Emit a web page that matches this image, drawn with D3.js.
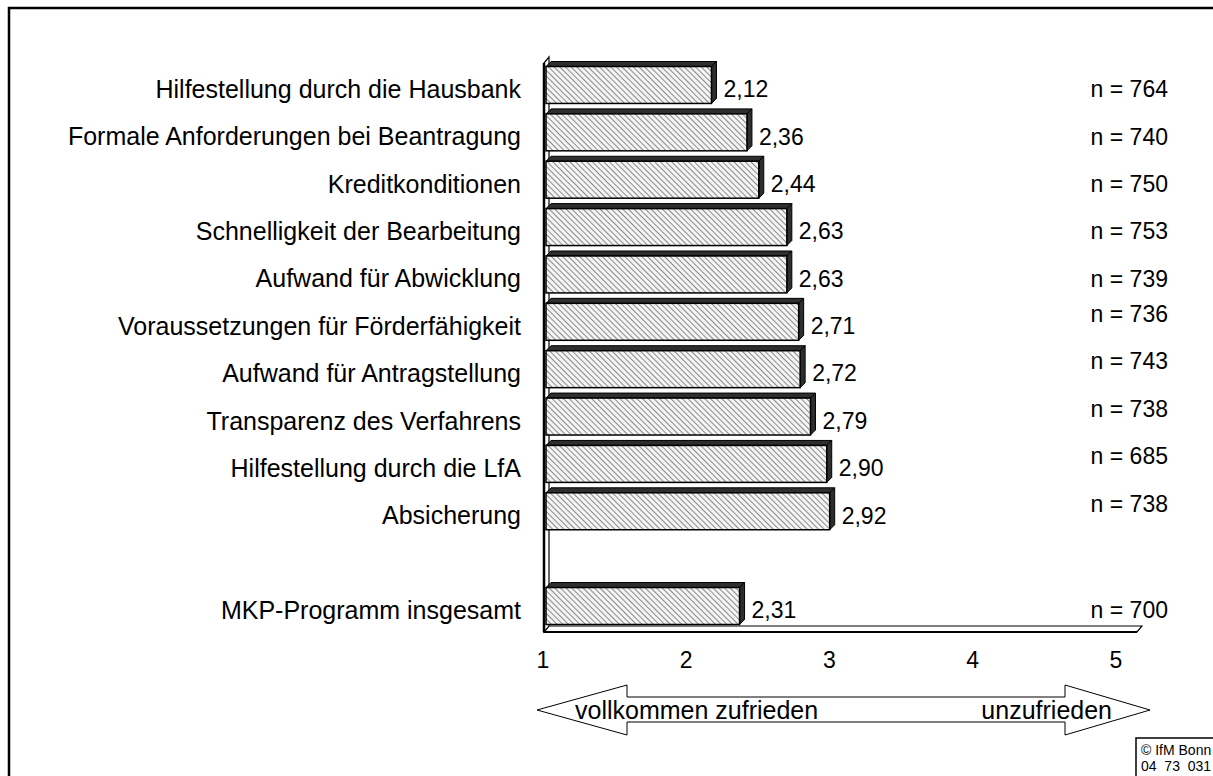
<!DOCTYPE html>
<html>
<head>
<meta charset="utf-8">
<script src="https://d3js.org/d3.v7.min.js"></script>
<style>
  body { margin: 0; background: #fff; }
  text { font-family: "Liberation Sans", Arial, sans-serif; fill: #000; }
</style>
</head>
<body>
<div id="my_dataviz"></div>
<script>
// data
const categories = [
  "Hilfestellung durch die Hausbank",
  "Formale Anforderungen bei Beantragung",
  "Kreditkonditionen",
  "Schnelligkeit der Bearbeitung",
  "Aufwand für Abwicklung",
  "Voraussetzungen für Förderfähigkeit",
  "Aufwand für Antragstellung",
  "Transparenz des Verfahrens",
  "Hilfestellung durch die LfA",
  "Absicherung",
  "",
  "MKP-Programm insgesamt"
];
const values = [2.12, 2.36, 2.44, 2.63, 2.63, 2.71, 2.72, 2.79, 2.90, 2.92, null, 2.31];
const counts = [764, 740, 750, 753, 739, 736, 743, 738, 685, 738, null, 700];
const tickValues = [1, 2, 3, 4, 5];
const scaleLabels = ["vollkommen zufrieden", "unzufrieden"];
const footer = ["© IfM Bonn", "04  73  031"];

const width = 1213, height = 776;
const depth = 5;

const svg = d3.select("#my_dataviz")
  .append("svg")
    .attr("width", width)
    .attr("height", height);

// hatch pattern for the bar faces
svg.append("defs")
  .append("pattern")
    .attr("id", "hatch")
    .attr("patternUnits", "userSpaceOnUse")
    .attr("width", 4)
    .attr("height", 4)
    .attr("patternTransform", "rotate(-45)")
  .call(p => {
    p.append("rect").attr("width", 4).attr("height", 4).attr("fill", "#f4f4f4");
    p.append("line").attr("x1", 0.5).attr("y1", 0).attr("x2", 0.5).attr("y2", 4)
      .attr("stroke", "#8a8a8a").attr("stroke-width", 1);
  });

// outer frame
svg.append("rect")
  .attr("x", 9).attr("y", 8)
  .attr("width", 1400).attr("height", 1000)
  .attr("fill", "none").attr("stroke", "#000").attr("stroke-width", 2.5);

const idx = categories.map((d, i) => i);

const x = d3.scaleLinear()
  .domain([1, 5])
  .range([546, 1137]);

// front edge of the floor, where the tick labels sit
const xTick = d3.scaleLinear()
  .domain([1, 5])
  .range([543, 1116]);

const y = d3.scaleBand()
  .domain(idx)
  .range([61.3, 629.7])
  .paddingInner(0.22)
  .paddingOuter(0.11);

const floorY = 632;
const wallTop = 57;

// wall
svg.append("path")
  .attr("d", d3.line()([
    [x(1) - 2, floorY], [x(1) - 2, wallTop + depth + 1],
    [x(1) - 2 + depth, wallTop], [x(1) - 2 + depth, floorY - depth]
  ]) + "Z")
  .attr("fill", "#fff").attr("stroke", "#000").attr("stroke-width", 1.2);
svg.append("line")
  .attr("x1", x(1) - 2).attr("x2", x(1) - 2)
  .attr("y1", wallTop + depth + 1).attr("y2", floorY)
  .attr("stroke", "#000").attr("stroke-width", 2.5);

// floor
svg.append("path")
  .attr("d", d3.line()([
    [x(1) - 2, floorY], [x(5), floorY],
    [x(5) + depth, floorY - depth - 1], [x(1) - 2 + depth, floorY - depth - 1]
  ]) + "Z")
  .attr("fill", "#fff").attr("stroke", "#000").attr("stroke-width", 1.2);
svg.append("line")
  .attr("x1", x(1) - 2).attr("x2", x(5))
  .attr("y1", floorY).attr("y2", floorY)
  .attr("stroke", "#000").attr("stroke-width", 2.2);

const data = idx.filter(i => values[i] !== null);

// bars
const bars = svg.append("g")
  .selectAll("g")
  .data(data)
  .join("g");

bars.append("path")
  .attr("d", i => {
    const x0 = x(1), x1 = x(values[i]), y0 = y(i);
    return d3.line()([[x0, y0], [x0 + depth, y0 - depth], [x1 + depth, y0 - depth], [x1, y0]]) + "Z";
  })
  .attr("fill", "#2e2e2e").attr("stroke", "#000").attr("stroke-width", 1);

bars.append("path")
  .attr("d", i => {
    const x1 = x(values[i]), y0 = y(i), y1 = y(i) + y.bandwidth();
    return d3.line()([[x1, y0], [x1 + depth, y0 - depth], [x1 + depth, y1 - depth], [x1, y1]]) + "Z";
  })
  .attr("fill", "#2e2e2e").attr("stroke", "#000").attr("stroke-width", 1);

bars.append("rect")
  .attr("x", x(1))
  .attr("y", i => y(i))
  .attr("width", i => x(values[i]) - x(1))
  .attr("height", y.bandwidth())
  .attr("fill", "url(#hatch)")
  .attr("stroke", "#000").attr("stroke-width", 1.5);

const fs = 23, fsCat = 25;
const mid = i => y(i) + y.bandwidth() / 2 + 4;

// category labels
svg.append("g")
  .selectAll("text")
  .data(data)
  .join("text")
    .attr("x", 521)
    .attr("y", i => mid(i) + 0.36 * fsCat)
    .attr("text-anchor", "end")
    .attr("font-size", fsCat)
    .text(i => categories[i]);

// value labels
svg.append("g")
  .selectAll("text")
  .data(data)
  .join("text")
    .attr("x", i => x(values[i]) + depth + 7)
    .attr("y", i => mid(i) + 0.36 * fs)
    .attr("font-size", fs)
    .text(i => d3.format(".2f")(values[i]).replace(".", ","));

// n labels (the middle group sits a bit higher in the original)
svg.append("g")
  .selectAll("text")
  .data(data)
  .join("text")
    .attr("x", 1168)
    .attr("y", i => mid(i) + 0.36 * fs - (i >= 5 && i <= 9 ? 12 : 0))
    .attr("text-anchor", "end")
    .attr("font-size", fs)
    .text(i => "n = " + counts[i]);

// tick labels
svg.append("g")
  .selectAll("text")
  .data(tickValues)
  .join("text")
    .attr("x", d => xTick(d))
    .attr("y", 668)
    .attr("text-anchor", "middle")
    .attr("font-size", fs)
    .text(d => d);

// double arrow
const ay = 710;
svg.append("path")
  .attr("d", d3.line()([
    [537, ay], [627, ay - 25], [627, ay - 13], [1065, ay - 13], [1065, ay - 25],
    [1150, ay], [1065, ay + 25], [1065, ay + 12], [627, ay + 12], [627, ay + 25]
  ]) + "Z")
  .attr("fill", "#fff").attr("stroke", "#000").attr("stroke-width", 1);

svg.append("text")
  .attr("x", 575).attr("y", ay + 9)
  .attr("font-size", fsCat)
  .text(scaleLabels[0]);
svg.append("text")
  .attr("x", 1112).attr("y", ay + 9)
  .attr("text-anchor", "end")
  .attr("font-size", fsCat)
  .text(scaleLabels[1]);

// copyright box
svg.append("rect")
  .attr("x", 1136).attr("y", 738)
  .attr("width", 100).attr("height", 60)
  .attr("fill", "#fff").attr("stroke", "#000").attr("stroke-width", 1.5);
svg.append("g")
  .selectAll("text")
  .data(footer)
  .join("text")
    .attr("x", 1141)
    .attr("y", (d, i) => 755 + i * 16)
    .attr("font-size", 14)
    .attr("xml:space", "preserve")
    .style("white-space", "pre")
    .text(d => d);
</script>
</body>
</html>
